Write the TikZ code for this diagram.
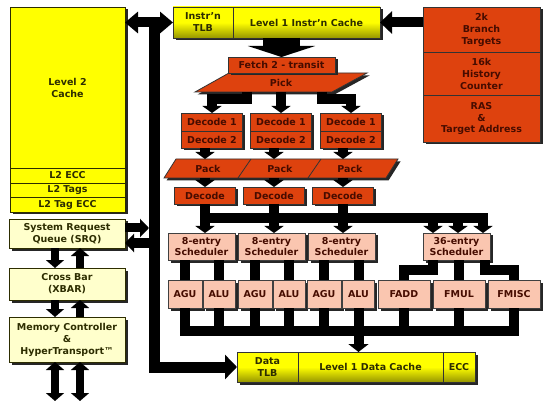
\documentclass[tikz,border=0pt]{standalone}
\usepackage{fontspec}
\setmainfont{DejaVu Sans}
\usepackage{tikz}
\usepackage{xcolor}
\usetikzlibrary{arrows.meta, shadows}

\definecolor{l2yellow}{RGB}{255,255,0}
\definecolor{olivedark}{RGB}{150,150,0}
\definecolor{redorange}{RGB}{222,66,14}
\definecolor{salmon}{RGB}{250,198,176}
\definecolor{paleyellow}{RGB}{255,255,204}
\definecolor{textbrown}{RGB}{70,12,0}
\definecolor{textolive}{RGB}{45,45,0}

\begin{document}
\begin{tikzpicture}[x=1pt, y=-1pt,
    every node/.style={font=\bfseries\fontsize{9.5}{12}\selectfont, align=center, inner sep=0pt, outer sep=0pt},
    boxshadow/.style={drop shadow={shadow xshift=2.5pt, shadow yshift=-2.5pt, fill=black!85, opacity=1}},
    l2cell/.style={boxshadow, draw=textolive, line width=0.8pt, fill=l2yellow, text=textolive},
    sysbox/.style={boxshadow, draw=textolive, line width=0.8pt, fill=paleyellow, text=textolive},
    cachebox/.style={boxshadow, draw=black!80, line width=0.8pt, top color=l2yellow, bottom color=olivedark, middle color=l2yellow, text=textolive},
    stagebox/.style={boxshadow, draw=black!80, line width=0.8pt, fill=redorange, text=textbrown},
    unitbox/.style={boxshadow, draw=black!75, line width=0.8pt, fill=salmon, text=textbrown},
    schedbox/.style={unitbox, font=\bfseries\fontsize{9.5}{11}\selectfont},
    busline/.style={draw=black, line width=10pt},
    sarrow/.style={busline, -{Triangle[length=7pt, width=19pt]}},
    barrow/.style={busline, -{Triangle[length=12pt, width=22pt]}},
    harrow/.style={draw=black, line width=9pt, -{Triangle[length=9pt, width=18pt]}},
    varrow/.style={draw=black, line width=8pt, -{Triangle[length=8pt, width=18pt]}}]

    \useasboundingbox (0,0) rectangle (550,404);

    % Level 2 cache column
    \node[l2cell, minimum width=115pt, minimum height=161pt] (l2) at (67.5,87.5) {Level 2\\Cache};
    \node[l2cell, minimum width=115pt, minimum height=15pt] (l2ecc) at (67.5,175.5) {L2 ECC};
    \node[l2cell, minimum width=115pt, minimum height=14pt] (l2tags) at (67.5,190) {L2 Tags};
    \node[l2cell, minimum width=115pt, minimum height=15pt] (l2tagecc) at (67.5,204.5) {L2 Tag ECC};

    % System blocks
    \node[sysbox, minimum width=116pt, minimum height=29pt] (srq) at (67,233.5) {System Request\\Queue (SRQ)};
    \node[sysbox, minimum width=116pt, minimum height=32pt] (xbar) at (67,284) {Cross Bar\\(XBAR)};
    \node[sysbox, minimum width=116pt, minimum height=45pt] (mc) at (67,339.5) {Memory Controller\\\&\\HyperTransport™};

    % Instruction cache and branch prediction
    \node[cachebox, minimum width=60pt, minimum height=31pt] (itlb) at (203,22.5) {Instr'n\\TLB};
    \node[cachebox, minimum width=147pt, minimum height=31pt] (icache) at (306.5,22.5) {Level 1 Instr'n Cache};
    \node[stagebox, minimum width=117pt, minimum height=45pt] (btb) at (481.5,29.5) {2k\\Branch\\Targets};
    \node[stagebox, minimum width=117pt, minimum height=43pt] (hist) at (481.5,73.5) {16k\\History\\Counter};
    \node[stagebox, minimum width=117pt, minimum height=47pt] (ras) at (481.5,118.5) {RAS\\\&\\Target Address};

    % Fetch and pick
    \filldraw[stagebox] (195,92) -- (229,73) -- (367,73) -- (332,92) -- cycle;
    \node[stagebox, minimum width=107pt, minimum height=16pt] (fetch) at (281.5,65) {Fetch 2 - transit};
    \node[text=textbrown, minimum width=100pt, minimum height=19pt] (pick) at (281,82.5) {Pick};

    % Decode 1 / Decode 2 columns
    \node[stagebox, minimum width=61pt, minimum height=18pt] (dec1a) at (212,122) {Decode 1};
    \node[stagebox, minimum width=61pt, minimum height=17pt] (dec2a) at (212,139.5) {Decode 2};
    \node[stagebox, minimum width=61pt, minimum height=18pt] (dec1b) at (281,122) {Decode 1};
    \node[stagebox, minimum width=61pt, minimum height=17pt] (dec2b) at (281,139.5) {Decode 2};
    \node[stagebox, minimum width=61pt, minimum height=18pt] (dec1c) at (351,122) {Decode 1};
    \node[stagebox, minimum width=61pt, minimum height=17pt] (dec2c) at (351,139.5) {Decode 2};

    % Pack
    \filldraw[stagebox] (164,178) -- (176,159) -- (398,159) -- (386,178) -- cycle;
    \draw[draw=black!80, line width=0.8pt] (238,178) -- (251,159) (308,178) -- (321,159);
    \node[text=textbrown, minimum height=19pt] (packa) at (208,168.5) {Pack};
    \node[text=textbrown, minimum height=19pt] (packb) at (280,168.5) {Pack};
    \node[text=textbrown, minimum height=19pt] (packc) at (350,168.5) {Pack};

    % Decode
    \node[stagebox, minimum width=61pt, minimum height=17pt] (deca) at (205,195.5) {Decode};
    \node[stagebox, minimum width=61pt, minimum height=17pt] (decb) at (274,195.5) {Decode};
    \node[stagebox, minimum width=61pt, minimum height=17pt] (decc) at (343,195.5) {Decode};

    % Schedulers
    \node[schedbox, minimum width=67pt, minimum height=27pt] (scha) at (201.5,246.5) {8-entry\\Scheduler};
    \node[schedbox, minimum width=67pt, minimum height=27pt] (schb) at (271.5,246.5) {8-entry\\Scheduler};
    \node[schedbox, minimum width=67pt, minimum height=27pt] (schc) at (341.5,246.5) {8-entry\\Scheduler};
    \node[schedbox, minimum width=67pt, minimum height=27pt] (fpsch) at (456.5,246.5) {36-entry\\Scheduler};

    % Execution units
    \node[unitbox, minimum width=34pt, minimum height=28pt] (agua) at (185,294) {AGU};
    \node[unitbox, minimum width=32pt, minimum height=28pt] (alua) at (219,294) {ALU};
    \node[unitbox, minimum width=34pt, minimum height=28pt] (agub) at (255,294) {AGU};
    \node[unitbox, minimum width=32pt, minimum height=28pt] (alub) at (289,294) {ALU};
    \node[unitbox, minimum width=34pt, minimum height=28pt] (aguc) at (324,294) {AGU};
    \node[unitbox, minimum width=32pt, minimum height=28pt] (aluc) at (358.5,294) {ALU};
    \node[unitbox, minimum width=52pt, minimum height=28pt] (fadd) at (404,294) {FADD};
    \node[unitbox, minimum width=52pt, minimum height=28pt] (fmul) at (459,294) {FMUL};
    \node[unitbox, minimum width=52pt, minimum height=28pt] (fmisc) at (514,294) {FMISC};

    % Data cache
    \node[cachebox, minimum width=61pt, minimum height=30pt] (dtlb) at (267.5,367) {Data\\TLB};
    \node[cachebox, minimum width=145pt, minimum height=30pt] (dcache) at (370.5,367) {Level 1 Data Cache};
    \node[cachebox, minimum width=32pt, minimum height=30pt] (ecc) at (459,367) {ECC};

    % Junction points
    \coordinate (bustop) at (154.5,22.5);
    \coordinate (srqin) at (149,228);
    \coordinate (srqout) at (149,243);
    \coordinate (ioa) at (55,401);
    \coordinate (iob) at (80,401);
    \coordinate (pickl) at (247,92);
    \coordinate (pickr) at (322,92);
    \coordinate (pickbar) at (0,99);
    \coordinate (fpbus) at (205,218);
    \coordinate (fpin1) at (433,233);
    \coordinate (fpin2) at (458,233);
    \coordinate (fpin3) at (483,233);
    \coordinate (fpl) at (433,270);
    \coordinate (fpr) at (485,270);
    \coordinate (resbus) at (514,331);

    % Memory side buses
    \draw[busline, {Triangle[length=13pt, width=21pt]}-{Triangle[length=13pt, width=21pt]}] (l2.east |- itlb.west) -- (itlb.west);
    \draw[busline, line width=11pt, -{Triangle[length=12pt, width=24pt]}] (bustop) |- (dtlb.west);
    \draw[harrow] (srq.east |- srqin) -- (srqin);
    \draw[harrow] (srqout) -- (srq.east |- srqout);
    \draw[varrow] (srq.south -| ioa) -- (xbar.north -| ioa);
    \draw[varrow] (xbar.north -| iob) -- (srq.south -| iob);
    \draw[varrow] (xbar.south -| ioa) -- (mc.north -| ioa);
    \draw[varrow] (mc.north -| iob) -- (xbar.south -| iob);
    \draw[varrow, {Triangle[length=8pt, width=18pt]}-{Triangle[length=8pt, width=18pt]}] (mc.south -| ioa) -- (ioa);
    \draw[varrow, {Triangle[length=8pt, width=18pt]}-{Triangle[length=8pt, width=18pt]}] (mc.south -| iob) -- (iob);

    % Front end
    \draw[barrow] (btb.west |- icache.east) -- (icache.east);
    \draw[draw=black, line width=37pt, -{Triangle[length=11pt, width=67pt]}] (fetch.north |- icache.south) -- (fetch.north);
    \draw[sarrow] (pickl) |- (dec1a.north |- pickbar) -- (dec1a.north);
    \draw[sarrow] (pick.south -| dec1b.north) -- (dec1b.north);
    \draw[sarrow] (pickr) |- (dec1c.north |- pickbar) -- (dec1c.north);
    \foreach \d/\p/\e/\s in {dec2a/packa/deca/scha, dec2b/packb/decb/schb, dec2c/packc/decc/schc} {
        \draw[sarrow] (\d.south -| \e.north) -- (\p.north -| \e.north);
        \draw[sarrow] (\p.south -| \e.north) -- (\e.north);
        \draw[sarrow] (\e.south) -- (\s.north -| \e.south);
    }
    \draw[sarrow] (fpbus) -| (fpin3);
    \draw[sarrow] (fpbus -| fpin1) -- (fpin1);
    \draw[sarrow] (fpbus -| fpin2) -- (fpin2);

    % Schedulers to units
    \foreach \s/\u in {scha/agua, scha/alua, schb/agub, schb/alub, schc/aguc, schc/aluc, fpsch/fmul}
        \draw[busline] (\s.south -| \u.north) -- (\u.north);
    \draw[busline] (fpsch.south -| fpl) -- (fpl) -| (fadd.north);
    \draw[busline] (fpsch.south -| fpr) -- (fpr) -| (fmisc.north);

    % Result bus
    \draw[busline] (agua.south) |- (resbus) -- (fmisc.south);
    \foreach \u in {alua, agub, alub, aguc, fadd, fmul}
        \draw[busline] (\u.south) -- (\u.south |- resbus);
    \draw[sarrow, -{Triangle[length=8pt, width=20pt]}] (aluc.south) -- (aluc.south |- dcache.north);
\end{tikzpicture}
\end{document}
